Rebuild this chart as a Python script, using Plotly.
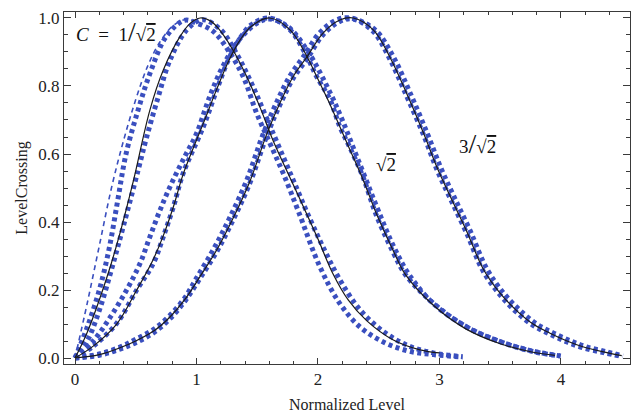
import plotly.graph_objects as go

# ---- C = 1/sqrt(2) family -------------------------------------------------
theory1_x = [0, 0.1, 0.274, 0.38, 0.48, 0.617, 0.727, 0.864, 0.95, 1.03, 1.12, 1.19,
             1.30, 1.41, 1.52, 1.63, 1.77, 1.88, 2.0, 2.12, 2.25, 2.40, 2.62, 2.84, 3.0]
theory1_y = [0, 0.075, 0.25, 0.38, 0.52, 0.73, 0.847, 0.945, 0.985, 1.0, 0.99, 0.965,
             0.906, 0.83, 0.74, 0.64, 0.53, 0.445, 0.35, 0.25, 0.17, 0.11, 0.053, 0.024, 0.015]

sim1a_x = [0, 0.1, 0.2, 0.28, 0.35, 0.42, 0.52, 0.62, 0.75, 0.9, 1.0, 1.14, 1.27, 1.385,
           1.495, 1.605, 1.714, 1.84, 2.016, 2.18, 2.35, 2.55, 2.75, 2.95, 3.19]
sim1a_y = [0, 0.09, 0.2, 0.32, 0.46, 0.6, 0.73, 0.84, 0.945, 0.993, 0.985, 0.96, 0.9, 0.827,
           0.72, 0.631, 0.543, 0.43, 0.268, 0.16, 0.09, 0.045, 0.02, 0.01, 0.003]

sim1b_x = [0, 0.1, 0.2, 0.3, 0.4, 0.52, 0.59, 0.686, 0.782, 0.92, 1.05, 1.2, 1.33, 1.45,
           1.56, 1.68, 1.8, 1.92, 2.05, 2.18, 2.35, 2.55, 2.75, 2.95, 3.19]
sim1b_y = [0, 0.05, 0.14, 0.26, 0.39, 0.553, 0.65, 0.769, 0.876, 0.965, 0.995, 0.965, 0.895,
           0.81, 0.72, 0.62, 0.52, 0.42, 0.32, 0.23, 0.14, 0.075, 0.035, 0.015, 0.004]

approx1_x = [0, 0.1, 0.2, 0.3, 0.4, 0.5, 0.6, 0.7, 0.8, 0.9, 1.0]
approx1_y = [0, 0.16, 0.33, 0.5, 0.64, 0.76, 0.86, 0.93, 0.975, 0.995, 0.99]

# ---- C = sqrt(2) family ---------------------------------------------------
theory2_x = [0, 0.15, 0.343, 0.508, 0.644, 0.727, 0.81, 0.89, 1.056, 1.166, 1.26, 1.358,
             1.45, 1.6, 1.77, 1.91, 1.99, 2.1, 2.18, 2.26, 2.37, 2.48, 2.62, 2.72, 2.95,
             3.22, 3.5, 3.77, 3.95]
theory2_y = [0, 0.035, 0.1, 0.2, 0.29, 0.36, 0.445, 0.54, 0.69, 0.79, 0.87, 0.935,
             0.975, 1.0, 0.965, 0.886, 0.827, 0.745, 0.68, 0.615, 0.525, 0.425, 0.315, 0.245,
             0.155, 0.085, 0.042, 0.017, 0.008]

sim2a_x = [0, 0.15, 0.29, 0.425, 0.535, 0.617, 0.70, 0.79, 0.9, 1.0, 1.11, 1.22, 1.36,
           1.5, 1.6, 1.75, 1.92, 2.1, 2.2, 2.3, 2.4, 2.5, 2.62, 2.75, 2.95, 3.22, 3.5,
           3.77, 4.0]
sim2a_y = [0, 0.05, 0.12, 0.2, 0.278, 0.357, 0.435, 0.51, 0.59, 0.66, 0.77, 0.86, 0.94,
           0.985, 0.997, 0.975, 0.9, 0.78, 0.7, 0.61, 0.52, 0.43, 0.33, 0.245, 0.16, 0.092,
           0.048, 0.02, 0.006]

sim2b_x = [0, 0.15, 0.343, 0.508, 0.644, 0.727, 0.81, 0.89, 1.056, 1.166, 1.26, 1.358,
           1.45, 1.6, 1.77, 1.91, 1.99, 2.1, 2.18, 2.26, 2.37, 2.48, 2.62, 2.72, 2.95,
           3.22, 3.5, 3.77, 3.99]
sim2b_y = [0, 0.035, 0.102, 0.2, 0.278, 0.357, 0.445, 0.543, 0.68, 0.788, 0.875, 0.94,
           0.98, 1.0, 0.965, 0.886, 0.827, 0.759, 0.68, 0.621, 0.533, 0.42, 0.31, 0.245,
           0.161, 0.092, 0.048, 0.019, 0.006]

# ---- C = 3/sqrt(2) family -------------------------------------------------
theory3_x = [0, 0.2, 0.37, 0.5, 0.65, 0.78, 0.9, 1.03, 1.17, 1.30, 1.44, 1.58, 1.7, 1.8,
             1.91, 2.04, 2.18, 2.29, 2.455, 2.59, 2.73, 2.87, 2.98, 3.09, 3.22, 3.36, 3.5,
             3.63, 3.77, 3.91, 4.05, 4.18, 4.35, 4.5]
theory3_y = [0, 0.01, 0.03, 0.05, 0.08, 0.12, 0.17, 0.24, 0.32, 0.41, 0.52, 0.66, 0.76,
             0.83, 0.886, 0.955, 0.994, 1.0, 0.965, 0.886, 0.778, 0.66, 0.56, 0.474, 0.376,
             0.262, 0.19, 0.141, 0.1, 0.073, 0.05, 0.033, 0.018, 0.007]

sim3a_x = [0, 0.2, 0.37, 0.5, 0.65, 0.78, 0.9, 1.0, 1.14, 1.27, 1.41, 1.55, 1.67, 1.77,
           1.88, 2.01, 2.15, 2.27, 2.47, 2.62, 2.76, 2.9, 3.01, 3.12, 3.25, 3.39, 3.53,
           3.66, 3.8, 3.94, 4.08, 4.21, 4.38, 4.51]
sim3a_y = [0, 0.012, 0.032, 0.055, 0.085, 0.125, 0.175, 0.235, 0.32, 0.41, 0.52, 0.66,
           0.76, 0.83, 0.886, 0.955, 0.994, 1.0, 0.965, 0.886, 0.778, 0.66, 0.56, 0.474,
           0.376, 0.262, 0.19, 0.141, 0.1, 0.073, 0.05, 0.033, 0.018, 0.006]

sim3b_x = theory3_x
sim3b_y = [0, 0.008, 0.026, 0.045, 0.075, 0.115, 0.165, 0.235, 0.315, 0.405, 0.515, 0.655,
           0.755, 0.825, 0.88, 0.95, 0.99, 0.997, 0.96, 0.88, 0.77, 0.655, 0.553, 0.468,
           0.37, 0.255, 0.185, 0.136, 0.096, 0.07, 0.047, 0.03, 0.016, 0.005]

BLUE = "#3a4fbf"
DOT = dict(color=BLUE, width=5, dash="4px,3.5px", shape="spline")

fig = go.Figure()


def dotted(xs, ys):
    fig.add_trace(go.Scatter(x=xs, y=ys, mode="lines", line=DOT, hoverinfo="skip"))


def solid(xs, ys):
    fig.add_trace(go.Scatter(x=xs, y=ys, mode="lines",
                             line=dict(color="#1a1a1a", width=1.2, shape="spline"),
                             hoverinfo="skip"))


fig.add_trace(go.Scatter(x=approx1_x, y=approx1_y, mode="lines",
                         line=dict(color=BLUE, width=1.6, dash="5px,4px", shape="spline"),
                         hoverinfo="skip"))
for xs, ys in [(sim1a_x, sim1a_y), (sim1b_x, sim1b_y), (sim2a_x, sim2a_y),
               (sim2b_x, sim2b_y), (sim3a_x, sim3a_y), (sim3b_x, sim3b_y)]:
    dotted(xs, ys)
for xs, ys in [(theory1_x, theory1_y), (theory2_x, theory2_y), (theory3_x, theory3_y)]:
    solid(xs, ys)

SERIF = "Liberation Serif"
AX = "#3a3a3a"
ROOT2 = "√<span style='text-decoration:overline'>2</span>"
SLASH = "<span style='font-size:28px'>/</span>"

fig.add_annotation(x=-0.01, y=0.96, xref="x", yref="y", xanchor="left", showarrow=False,
                   text="<i>C</i>  =  1" + SLASH + ROOT2,
                   font=dict(family=SERIF, size=19, color="#111"))
fig.add_annotation(x=2.56, y=0.57, xref="x", yref="y", showarrow=False,
                   text=ROOT2, font=dict(family=SERIF, size=19, color="#111"))
fig.add_annotation(x=3.31, y=0.63, xref="x", yref="y", showarrow=False,
                   text="3" + SLASH + ROOT2, font=dict(family=SERIF, size=19, color="#111"))

fig.update_layout(
    width=631, height=418,
    margin=dict(l=64, r=1, t=12, b=54),
    paper_bgcolor="white", plot_bgcolor="white",
    showlegend=False,
    font=dict(family=SERIF, size=17, color="#222"),
    xaxis=dict(range=[-0.0905, 4.568], tickvals=[0, 1, 2, 3, 4],
               ticks="inside", ticklen=6, tickcolor=AX, tickwidth=1,
               showline=True, linecolor=AX, linewidth=1, mirror="ticks",
               showgrid=False, zeroline=False, tickfont=dict(family=SERIF, size=17),
               minor=dict(dtick=0.2, ticks="inside", ticklen=3, tickcolor=AX, showgrid=False),
               title=dict(text="Normalized Level", font=dict(family=SERIF, size=16), standoff=10)),
    yaxis=dict(range=[-0.0176, 1.0176], tickvals=[0, 0.2, 0.4, 0.6, 0.8, 1.0],
               ticktext=["0.0", "0.2", "0.4", "0.6", "0.8", "1.0"],
               ticks="inside", ticklen=7, tickcolor=AX, tickwidth=1,
               showline=True, linecolor=AX, linewidth=1, mirror="ticks",
               showgrid=False, zeroline=False, tickfont=dict(family=SERIF, size=17),
               minor=dict(dtick=0.05, ticks="inside", ticklen=4, tickcolor=AX, showgrid=False),
               title=dict(text="LevelCrossing", font=dict(family=SERIF, size=16), standoff=6)),
)

fig.write_html("out.html")
